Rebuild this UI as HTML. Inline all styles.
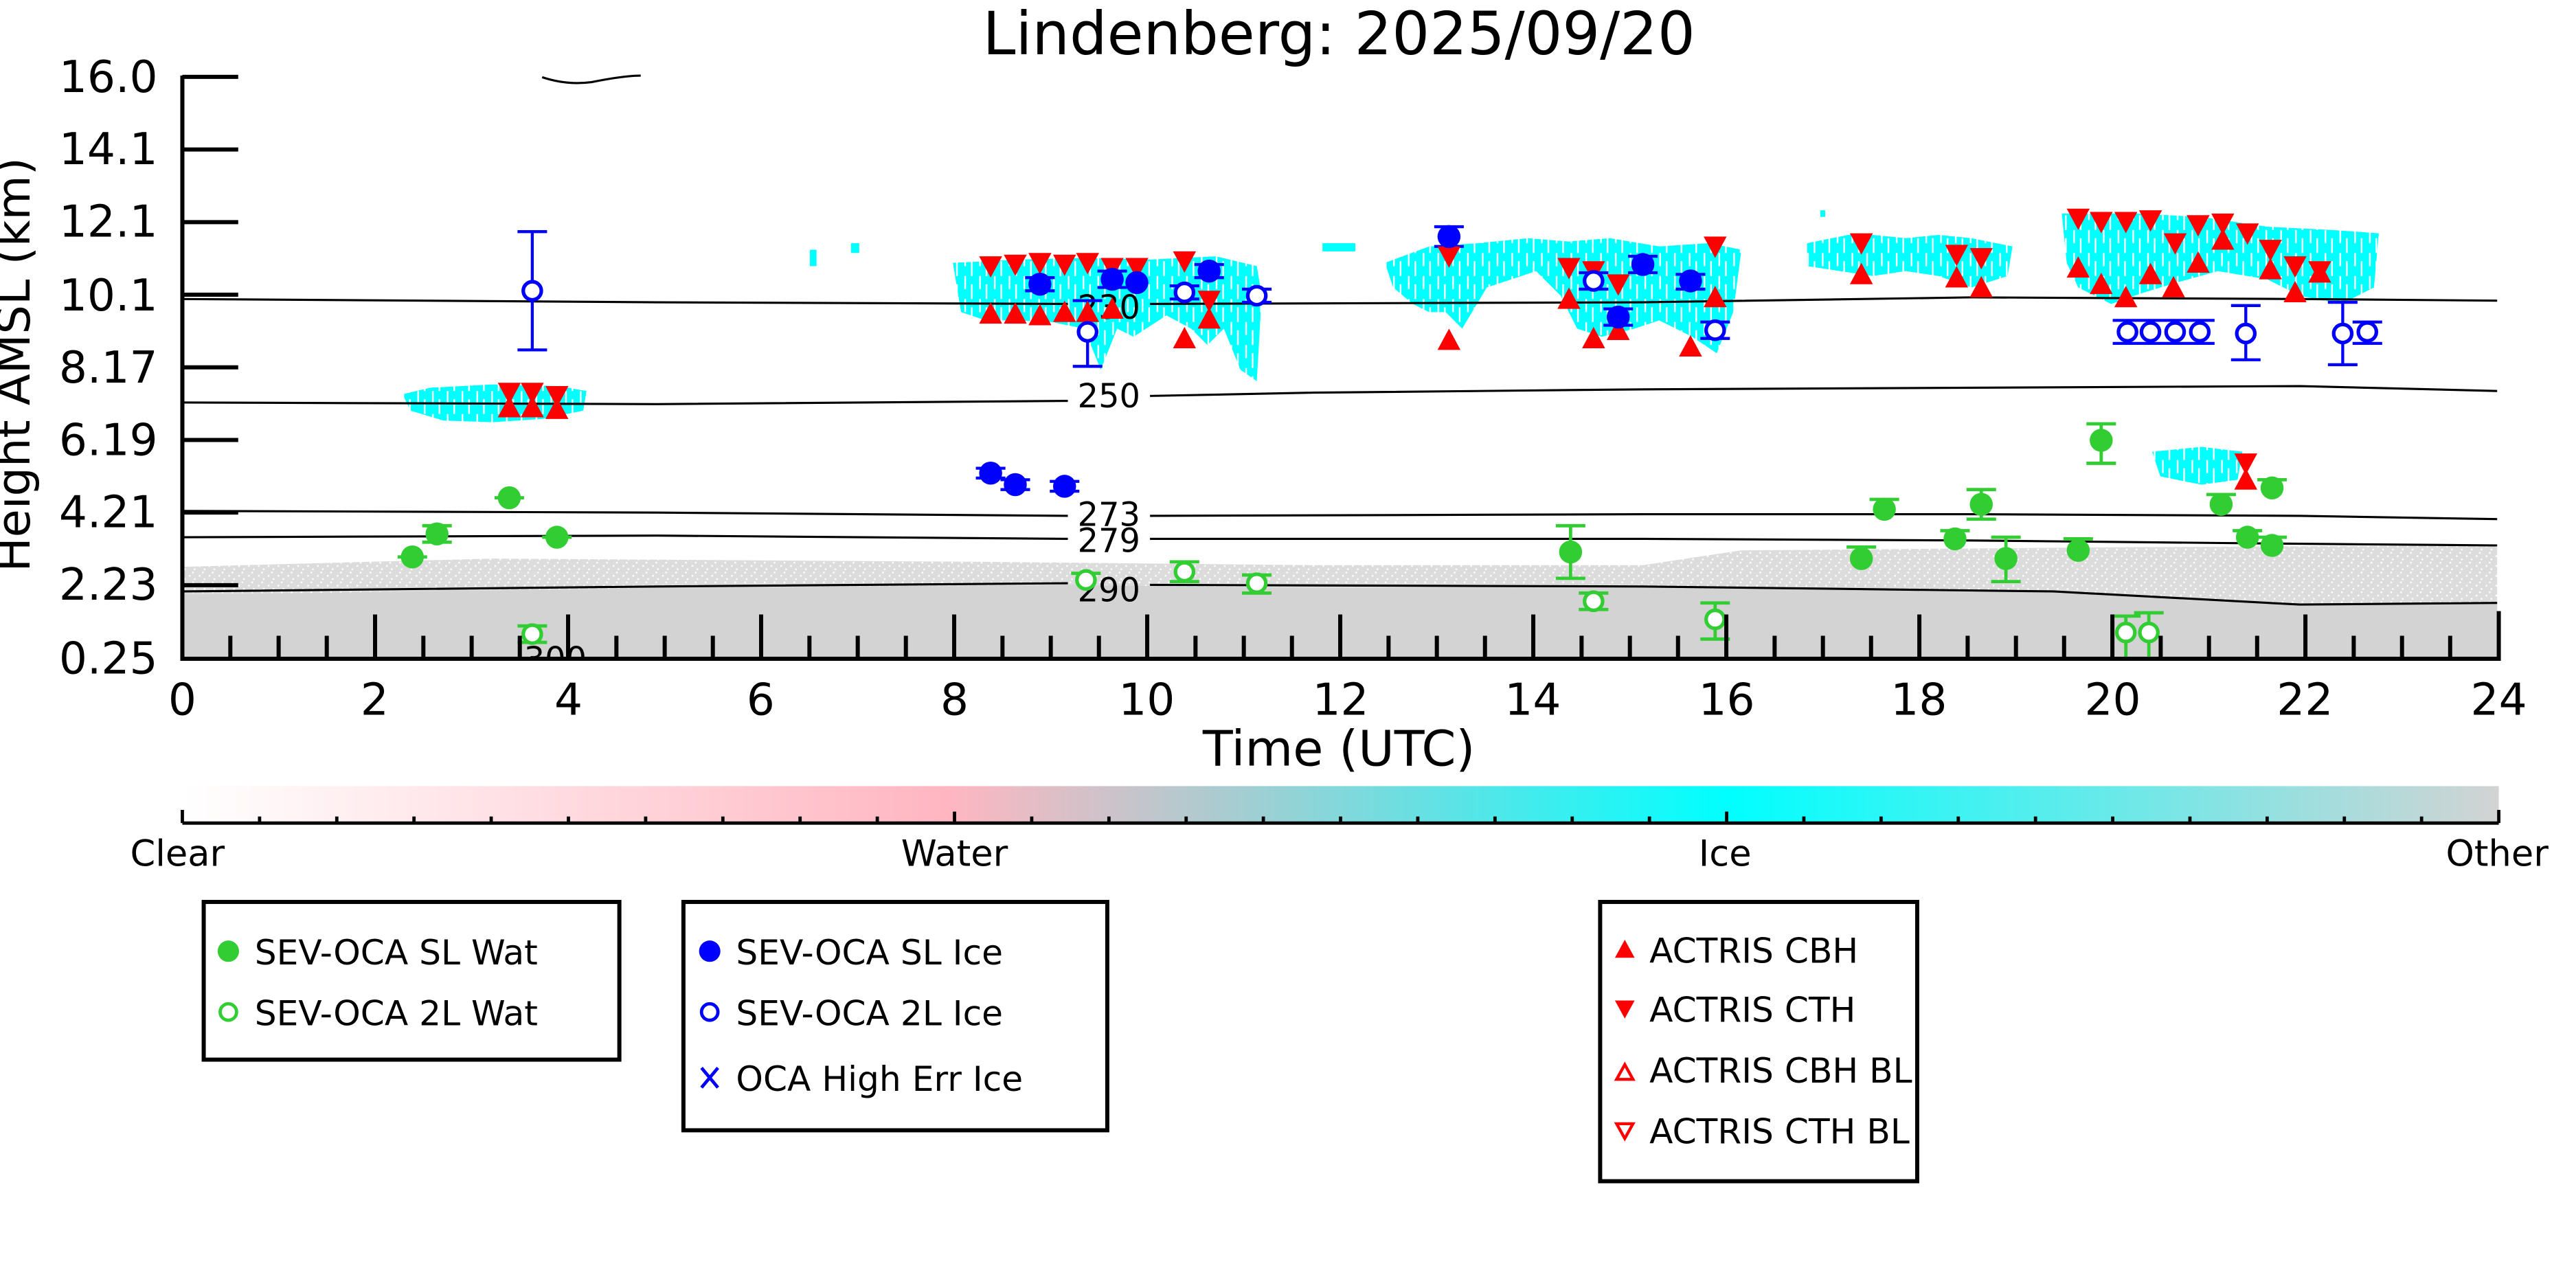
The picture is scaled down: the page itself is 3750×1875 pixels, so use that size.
<!DOCTYPE html>
<html><head><meta charset="utf-8"><style>
html,body{margin:0;padding:0;background:#fff;}
svg{display:block;}
text{font-family:"DejaVu Sans","Liberation Sans",sans-serif;}
</style></head><body>
<svg width="3750" height="1875" viewBox="0 0 1568 784" xmlns="http://www.w3.org/2000/svg">
<defs>
<linearGradient id="cb" x1="0" x2="1" y1="0" y2="0">
<stop offset="0" stop-color="#ffffff"/>
<stop offset="0.33" stop-color="#ffb6c1"/>
<stop offset="0.45" stop-color="#a9ccd0"/>
<stop offset="0.667" stop-color="#00ffff"/>
<stop offset="1" stop-color="#d3d3d3"/>
</linearGradient>
<pattern id="spk" width="6" height="6" patternUnits="userSpaceOnUse">
<rect width="6" height="6" fill="#dcdcdc"/><rect x="1" y="2" width="1" height="1" fill="#fff"/><rect x="4" y="4" width="1" height="1" fill="#fff"/><rect x="3" y="0" width="1" height="1" fill="#fff"/>
</pattern>
<pattern id="ice" width="9" height="14" patternUnits="userSpaceOnUse">
<rect width="9" height="14" fill="#00ffff"/><rect x="2" y="0" width="1" height="8" fill="#fff"/><rect x="6" y="5" width="1" height="9" fill="#fff"/>
</pattern>
<g id="gf"><circle r="7" fill="#32cd32"/></g>
<g id="go"><circle r="5.5" fill="#fff" stroke="#32cd32" stroke-width="2.2"/></g>
<g id="bf"><circle r="7" fill="#0000ff"/></g>
<g id="bo"><circle r="5.5" fill="#fff" stroke="#0000ff" stroke-width="2.2"/></g>
<polygon id="td" points="-7,-6 7,-6 0,7" fill="#ff0000"/>
<polygon id="tu" points="-7,6 7,6 0,-7" fill="#ff0000"/>
</defs>

<text x="815" y="33" font-size="36" text-anchor="middle">Lindenberg: 2025/09/20</text>

<path d="M111,345 L300,340 L600,342 L800,344 L1000,344 L1060,335 L1300,333 L1520,332 L1520,400 L111,400 Z" fill="url(#spk)"/>
<path d="M111,362 L400,358 L650,356 L800,358 L1000,358 L1250,360 L1400,368 L1520,367 L1520,400 L111,400 Z" fill="#d3d3d3"/>

<g fill="url(#ice)">
<path d="M245,240 L262,236 L300,234 L340,235 L357,238 L355,250 L330,255 L300,257 L270,256 L250,250 Z"/>
<path d="M580,160 L620,158 L660,157 L700,158 L740,156 L765,162 L768,180 L765,232 L755,225 L745,200 L735,210 L725,200 L710,192 L690,205 L680,200 L670,225 L660,200 L640,196 L620,195 L600,195 L585,190 Z"/>
<path d="M843,160 L870,150 L900,148 L930,145 L955,147 L980,145 L1010,150 L1040,148 L1060,152 L1055,190 L1045,215 L1030,205 L1010,195 L995,200 L975,205 L960,200 L950,180 L935,165 L920,170 L905,175 L890,200 L880,190 L870,190 L860,185 L848,175 Z"/>
<path d="M1100,148 L1130,142 L1160,145 L1180,143 L1200,145 L1225,150 L1222,168 L1200,175 L1180,168 L1160,165 L1140,168 L1120,165 L1100,162 Z"/>
<path d="M1255,130 L1300,130 L1340,132 L1380,138 L1420,140 L1448,142 L1445,175 L1425,185 L1400,180 L1380,170 L1350,165 L1325,172 L1305,178 L1285,185 L1265,175 L1258,160 Z"/>
<path d="M1310,275 L1340,272 L1365,275 L1362,292 L1340,295 L1315,290 Z"/>
</g>
<g fill="#00ffff">
<rect x="493" y="152" width="4" height="10"/><rect x="518" y="148" width="5" height="6"/><rect x="805" y="148" width="20" height="5"/><rect x="1108" y="128" width="3" height="4"/>
</g>

<g fill="none" stroke="#000" stroke-width="1.3">
<path d="M330,47 Q345,52 360,50 Q380,46 390,46"/>
<path d="M111,182 L400,184 L650,185 M700,185 L1000,184 L1200,181 L1400,182 L1520,183"/>
<path d="M111,245 L400,246 L650,244 M700,241 L800,239 L1000,237 L1200,236 L1400,235 L1520,238"/>
<path d="M111,311 L400,312 L650,314 M700,314 L1000,313 L1200,313 L1400,314 L1520,316"/>
<path d="M111,327 L400,326 L650,328 M700,328 L1000,328 L1200,329 L1400,331 L1520,332"/>
<path d="M111,360 L400,357 L650,355 M700,356 L1000,357 L1250,360 L1400,368 L1520,367"/>
</g>
<g font-size="20" text-anchor="middle">
<text x="675" y="194">230</text>
<text x="675" y="248">250</text>
<text x="675" y="320">273</text>
<text x="675" y="336">279</text>
<text x="675" y="366">290</text>
<text x="338" y="408">300</text>
</g>
<rect x="300" y="401" width="80" height="20" fill="#fff"/>

<g stroke="#32cd32" stroke-width="2" fill="none">
<path d="M266,320 V330 M257,320 H275 M257,330 H275"/>
<path d="M301,303 H319 M330,327 H348 M242,339 H260"/>
<path d="M956,320 V352 M947,320 H965 M947,352 H965"/>
<path d="M1206,298 V316 M1197,298 H1215 M1197,316 H1215"/>
<path d="M1221,327 V354 M1212,327 H1230 M1212,354 H1230"/>
<path d="M1279,258 V282 M1270,258 H1288 M1270,282 H1288"/>
<path d="M1124,333 H1142 M1138,304 H1156 M1181,323 H1199 M1256,328 H1274 M1343,301 H1361 M1374,292 H1392 M1359,323 H1377 M1374,327 H1392"/>
<path d="M315,381 H333 M315,391 H333 M652,349 H670 M712,342 H730 M712,354 H730 M756,350 H774 M756,361 H774 M961,361 H979 M961,371 H979 M1044,367 V389 M1035,367 H1053 M1035,389 H1053"/>
<path d="M1294,375 V400 M1285,375 H1303 M1308,373 V400 M1299,373 H1317"/>
</g>
<g stroke="#0000ff" stroke-width="1.8" fill="none">
<path d="M324,141 V213 M315,141 H333 M315,213 H333"/>
<path d="M662,183 V223 M653,183 H671 M653,223 H671"/>
<path d="M1367,186 V219 M1358,186 H1376 M1358,219 H1376"/>
<path d="M1426,184 V222 M1417,184 H1435 M1417,222 H1435"/>
<path d="M1286,195 H1348 M1286,209 H1348 M1432,196 H1450 M1432,209 H1450"/>
<path d="M594,285 H612 M594,291 H612 M609,292 H627 M609,298 H627 M639,293 H657 M639,299 H657"/>
<path d="M624,169 H642 M624,177 H642 M668,165 H686 M668,175 H686 M727,161 H745 M727,169 H745 M873,138 H891 M873,150 H891 M976,188 H994 M976,198 H994 M991,156 H1009 M991,166 H1009 M1020,167 H1038 M1020,176 H1038 M1035,196 H1053 M1035,206 H1053 M712,174 H730 M712,182 H730 M756,176 H774 M756,184 H774 M961,166 H979 M961,176 H979"/>
</g>

<g>
<use href="#td" x="310" y="239"/><use href="#td" x="324" y="239"/><use href="#td" x="339" y="241"/>
<use href="#tu" x="310" y="248"/><use href="#tu" x="324" y="248"/><use href="#tu" x="339" y="249"/>
<use href="#td" x="603" y="162"/><use href="#td" x="618" y="161"/><use href="#td" x="633" y="160"/><use href="#td" x="648" y="161"/><use href="#td" x="662" y="160"/><use href="#td" x="677" y="163"/><use href="#td" x="692" y="163"/><use href="#td" x="721" y="159"/><use href="#td" x="736" y="183"/>
<use href="#tu" x="603" y="191"/><use href="#tu" x="618" y="191"/><use href="#tu" x="633" y="192"/><use href="#tu" x="648" y="190"/><use href="#tu" x="662" y="190"/><use href="#tu" x="677" y="188"/><use href="#tu" x="721" y="206"/><use href="#tu" x="736" y="194"/>
<use href="#td" x="882" y="156"/><use href="#tu" x="882" y="207"/>
<use href="#td" x="955" y="163"/><use href="#tu" x="955" y="182"/><use href="#td" x="970" y="165"/><use href="#tu" x="970" y="206"/><use href="#td" x="985" y="173"/><use href="#tu" x="985" y="201"/>
<use href="#td" x="1044" y="150"/><use href="#tu" x="1044" y="181"/><use href="#tu" x="1029" y="211"/>
<use href="#td" x="1133" y="148"/><use href="#tu" x="1133" y="167"/>
<use href="#td" x="1191" y="155"/><use href="#tu" x="1191" y="169"/><use href="#td" x="1206" y="157"/><use href="#tu" x="1206" y="175"/>
<use href="#td" x="1265" y="133"/><use href="#td" x="1279" y="135"/><use href="#td" x="1294" y="135"/><use href="#td" x="1309" y="134"/><use href="#td" x="1324" y="148"/><use href="#td" x="1338" y="137"/><use href="#td" x="1353" y="136"/><use href="#td" x="1368" y="142"/><use href="#td" x="1382" y="152"/><use href="#td" x="1397" y="162"/><use href="#td" x="1412" y="165"/>
<use href="#tu" x="1265" y="163"/><use href="#tu" x="1279" y="173"/><use href="#tu" x="1294" y="181"/><use href="#tu" x="1309" y="167"/><use href="#tu" x="1323" y="175"/><use href="#tu" x="1338" y="160"/><use href="#tu" x="1353" y="146"/><use href="#tu" x="1382" y="164"/><use href="#tu" x="1397" y="178"/><use href="#tu" x="1412" y="166"/>
<use href="#td" x="1367" y="282"/><use href="#tu" x="1367" y="292"/>
</g>

<g>
<use href="#gf" x="251" y="339"/><use href="#gf" x="266" y="325"/><use href="#gf" x="310" y="303"/><use href="#gf" x="339" y="327"/>
<use href="#gf" x="956" y="336"/><use href="#gf" x="1133" y="340"/><use href="#gf" x="1147" y="310"/><use href="#gf" x="1190" y="328"/><use href="#gf" x="1206" y="307"/><use href="#gf" x="1221" y="340"/><use href="#gf" x="1265" y="335"/><use href="#gf" x="1279" y="268"/><use href="#gf" x="1352" y="307"/><use href="#gf" x="1383" y="297"/><use href="#gf" x="1368" y="327"/><use href="#gf" x="1383" y="332"/>
<use href="#go" x="324" y="386"/><use href="#go" x="661" y="353"/><use href="#go" x="721" y="348"/><use href="#go" x="765" y="355"/><use href="#go" x="970" y="366"/><use href="#go" x="1044" y="377"/><use href="#go" x="1294" y="385"/><use href="#go" x="1308" y="385"/>
<use href="#bf" x="603" y="288"/><use href="#bf" x="618" y="295"/><use href="#bf" x="648" y="296"/><use href="#bf" x="633" y="173"/><use href="#bf" x="677" y="170"/><use href="#bf" x="692" y="172"/><use href="#bf" x="736" y="165"/><use href="#bf" x="882" y="144"/><use href="#bf" x="985" y="193"/><use href="#bf" x="1000" y="161"/><use href="#bf" x="1029" y="171"/>
<use href="#bo" x="324" y="177"/><use href="#bo" x="662" y="202"/><use href="#bo" x="721" y="178"/><use href="#bo" x="765" y="180"/><use href="#bo" x="970" y="171"/><use href="#bo" x="1044" y="201"/><use href="#bo" x="1295" y="202"/><use href="#bo" x="1309" y="202"/><use href="#bo" x="1324" y="202"/><use href="#bo" x="1339" y="202"/><use href="#bo" x="1367" y="203"/><use href="#bo" x="1426" y="203"/><use href="#bo" x="1441" y="202"/>
</g>

<g stroke="#000" stroke-width="2.5" fill="none">
<path d="M111,46 V401 H1521 V372"/>
<path d="M111,46.8 H145 M111,91 H145 M111,135.2 H145 M111,179.4 H145 M111,223.6 H145 M111,267.8 H145 M111,312 H145 M111,356.2 H145"/>
<path d="M228.3,400 V374 M345.8,400 V374 M463.3,400 V374 M580.8,400 V374 M698.3,400 V374 M815.8,400 V374 M933.3,400 V374 M1050.8,400 V374 M1168.3,400 V374 M1285.8,400 V374 M1403.3,400 V374"/>
<path d="M140.2,400 V387 M169.6,400 V387 M198.9,400 V387 M257.7,400 V387 M287.1,400 V387 M316.4,400 V387 M375.2,400 V387 M404.6,400 V387 M433.9,400 V387 M492.7,400 V387 M522.1,400 V387 M551.4,400 V387 M610.2,400 V387 M639.6,400 V387 M668.9,400 V387 M727.7,400 V387 M757.1,400 V387 M786.4,400 V387 M845.2,400 V387 M874.6,400 V387 M903.9,400 V387 M962.7,400 V387 M992.1,400 V387 M1021.4,400 V387 M1080.2,400 V387 M1109.6,400 V387 M1138.9,400 V387 M1197.7,400 V387 M1227.1,400 V387 M1256.4,400 V387 M1315.2,400 V387 M1344.6,400 V387 M1373.9,400 V387 M1432.7,400 V387 M1462.1,400 V387 M1491.4,400 V387"/>
</g>
<g font-size="27" text-anchor="end">
<text x="96" y="56">16.0</text><text x="96" y="100">14.1</text><text x="96" y="144">12.1</text><text x="96" y="189">10.1</text><text x="96" y="233">8.17</text><text x="96" y="277">6.19</text><text x="96" y="321">4.21</text><text x="96" y="365">2.23</text><text x="96" y="410">0.25</text>
</g>
<g font-size="27" text-anchor="middle">
<text x="111" y="435">0</text><text x="228" y="435">2</text><text x="346" y="435">4</text><text x="463" y="435">6</text><text x="581" y="435">8</text><text x="698" y="435">10</text><text x="816" y="435">12</text><text x="933" y="435">14</text><text x="1051" y="435">16</text><text x="1168" y="435">18</text><text x="1286" y="435">20</text><text x="1403" y="435">22</text><text x="1521" y="435">24</text>
</g>
<text x="815" y="466" font-size="30" text-anchor="middle">Time (UTC)</text>
<text transform="translate(18,222) rotate(-90)" font-size="28" text-anchor="middle">Height AMSL (km)</text>

<rect x="111" y="478.5" width="1410" height="22" fill="url(#cb)"/>
<g stroke="#000" stroke-width="2" fill="none">
<path d="M111,501 H1521 M111,501 V493 M1521,501 V493"/>
<path d="M158,501 V497 M205,501 V497 M252,501 V497 M299,501 V497 M346,501 V497 M393,501 V497 M440,501 V497 M487,501 V497 M534,501 V497 M581,501 V494 M628,501 V497 M675,501 V497 M722,501 V497 M769,501 V497 M816,501 V497 M863,501 V497 M910,501 V497 M957,501 V497 M1004,501 V497 M1051,501 V494 M1098,501 V497 M1145,501 V497 M1192,501 V497 M1239,501 V497 M1286,501 V497 M1333,501 V497 M1380,501 V497 M1427,501 V497 M1474,501 V497"/>
</g>
<g font-size="22" text-anchor="middle">
<text x="108" y="527">Clear</text><text x="581" y="527">Water</text><text x="1050" y="527">Ice</text><text x="1520" y="527">Other</text>
</g>

<g fill="none" stroke="#000" stroke-width="2.5">
<rect x="124" y="549" width="253" height="96"/>
<rect x="416" y="549" width="258" height="139"/>
<rect x="974" y="549" width="193" height="170"/>
</g>
<g font-size="21">
<circle cx="139" cy="579" r="6.5" fill="#32cd32"/>
<text x="155" y="587">SEV-OCA SL Wat</text>
<circle cx="139" cy="616" r="5" fill="#fff" stroke="#32cd32" stroke-width="2"/>
<text x="155" y="624">SEV-OCA 2L Wat</text>
<circle cx="432" cy="579" r="6.5" fill="#0000ff"/>
<text x="448" y="587">SEV-OCA SL Ice</text>
<circle cx="432" cy="616" r="5" fill="#fff" stroke="#0000ff" stroke-width="2"/>
<text x="448" y="624">SEV-OCA 2L Ice</text>
<path d="M427,650 L437,662 M437,650 L427,662" stroke="#0000ff" stroke-width="2"/>
<text x="448" y="664">OCA High Err Ice</text>
<polygon points="983,583 995,583 989,572" fill="#ff0000"/>
<text x="1004" y="586">ACTRIS CBH</text>
<polygon points="983,609 995,609 989,620" fill="#ff0000"/>
<text x="1004" y="622">ACTRIS CTH</text>
<polygon points="984,657 994,657 989,648" fill="none" stroke="#ff0000" stroke-width="1.8"/>
<text x="1004" y="659">ACTRIS CBH BL</text>
<polygon points="984,684 994,684 989,693" fill="none" stroke="#ff0000" stroke-width="1.8"/>
<text x="1004" y="696">ACTRIS CTH BL</text>
</g>
</svg>
</body></html>
